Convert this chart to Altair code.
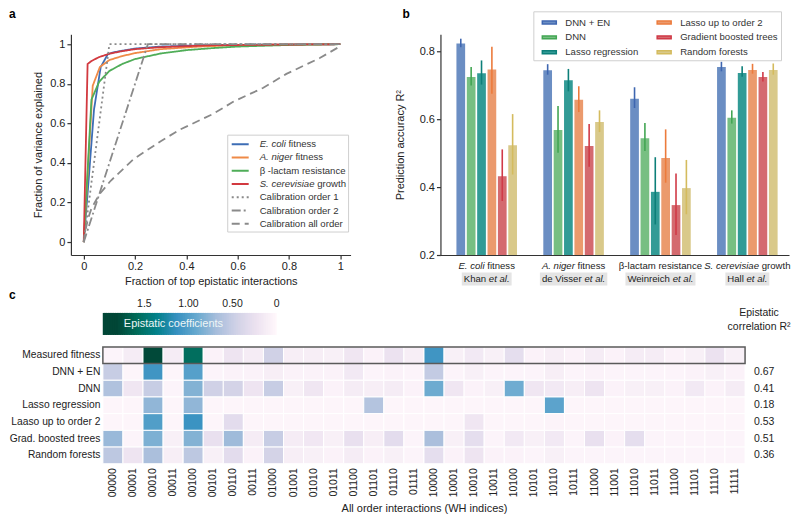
import altair as alt
import pandas as pd
import numpy as np

FONT = "Liberation Sans"

# ---------------- Panel a data ----------------
ecoli_x = [0, 0.02, 0.04, 0.066, 0.094, 0.12, 0.2, 0.3, 0.5, 1.0]
ecoli_y = [0, 0.33, 0.67, 0.884, 0.95, 0.96, 0.978, 0.988, 0.996, 1.0]
aniger_x = [0, 0.035, 0.063, 0.1, 0.15, 0.2, 0.3, 0.45, 0.6, 0.8, 1.0]
aniger_y = [0, 0.79, 0.885, 0.92, 0.94, 0.955, 0.975, 0.988, 0.995, 0.999, 1.0]
blact_x = [0, 0.03, 0.06, 0.1, 0.15, 0.2, 0.3, 0.4, 0.5, 0.6, 0.8, 1.0]
blact_y = [0, 0.72, 0.81, 0.865, 0.9, 0.925, 0.953, 0.97, 0.98, 0.988, 0.996, 1.0]
scer_x = [0, 0.015, 0.03, 0.06, 0.1, 0.15, 0.2, 0.3, 0.5, 1.0]
scer_y = [0, 0.9, 0.915, 0.935, 0.952, 0.965, 0.975, 0.985, 0.995, 1.0]
cal1_x = [0, 0.1, 1.0]
cal1_y = [0, 1.0, 1.0]
cal2_x = [0, 0.25, 1.0]
cal2_y = [0, 1.0, 1.0]
calall_x = [0, 0.005, 0.017, 0.03, 0.06, 0.105, 0.195, 0.3, 0.377, 0.5, 0.584, 0.7, 0.79, 0.92, 1.0]
calall_y = [0, 0.05, 0.12, 0.17, 0.24, 0.31, 0.42, 0.51, 0.57, 0.645, 0.71, 0.78, 0.85, 0.93, 0.99]

a_series = ["E. coli fitness", "A. niger fitness", "β -lactam resistance", "S. cerevisiae growth",
            "Calibration order 1", "Calibration order 2", "Calibration all order"]
a_ital = ["E. coli", "A. niger", "", "S. cerevisiae", "", "", ""]
a_norm = ["fitness", "fitness", "β -lactam resistance", "growth",
          "Calibration order 1", "Calibration order 2", "Calibration all order"]
a_colors = ["#3d6db5", "#ef8a47", "#4fad58", "#d2393f", "#8a8a8a", "#8a8a8a", "#8a8a8a"]
a_dashes = [[1, 0], [1, 0], [1, 0], [1, 0], [2, 3], [9, 3, 2, 3], [8, 5]]

# ---------------- Panel b data ----------------
groups = ["E. coli fitness", "A. niger fitness", "β-lactam resistance", "S. cerevisiae growth"]
methods = ["DNN + EN", "DNN", "Lasso regression", "Lasso up to order 2",
           "Gradient boosted trees", "Random forests"]
r2_mean = {
    "DNN + EN": [0.823, 0.744, 0.660, 0.754],
    "DNN": [0.724, 0.568, 0.544, 0.604],
    "Lasso regression": [0.735, 0.715, 0.386, 0.736],
    "Lasso up to order 2": [0.746, 0.657, 0.486, 0.745],
    "Gradient boosted trees": [0.432, 0.521, 0.347, 0.724],
    "Random forests": [0.523, 0.592, 0.397, 0.745],
}
r2_lo = {
    "DNN + EN": [0.812, 0.731, 0.633, 0.741],
    "DNN": [0.699, 0.501, 0.506, 0.587],
    "Lasso regression": [0.702, 0.682, 0.290, 0.725],
    "Lasso up to order 2": [0.675, 0.621, 0.413, 0.734],
    "Gradient boosted trees": [0.359, 0.460, 0.259, 0.711],
    "Random forests": [0.437, 0.562, 0.320, 0.731],
}
r2_hi = {
    "DNN + EN": [0.837, 0.762, 0.694, 0.769],
    "DNN": [0.754, 0.639, 0.589, 0.626],
    "Lasso regression": [0.773, 0.748, 0.488, 0.756],
    "Lasso up to order 2": [0.813, 0.697, 0.570, 0.763],
    "Gradient boosted trees": [0.511, 0.586, 0.440, 0.739],
    "Random forests": [0.615, 0.626, 0.480, 0.764],
}
bar_colors = ["#6b8ec3", "#77bf82", "#329b96", "#eb9a6d", "#d46a6f", "#d9c98a"]
err_colors = ["#3e66b0", "#43a654", "#0d7f79", "#ec7b3c", "#d03a47", "#d4bb5e"]
cat_line1 = [[("E. coli", True), ("fitness", False)],
             [("A. niger", True), ("fitness", False)],
             [("β-lactam resistance", False)],
             [("S. cerevisiae", True), ("growth", False)]]
cat_line2 = [[("Khan", False), ("et al.", True)],
             [("de Visser", False), ("et al.", True)],
             [("Weinreich", False), ("et al.", True)],
             [("Hall", False), ("et al.", True)]]

# ---------------- Panel c data ----------------
row_names = ["Measured fitness", "DNN + EN", "DNN", "Lasso regression",
             "Laaso up to order 2", "Grad. boosted trees", "Random forests"]
wh_cols = [format(i, "05b") for i in range(32)]
coef_measured = [0.03, 0.12, 1.78, 0.12, 1.55, 0.05, 0.2, 0.12, 0.45, 0.1, 0.1,
                 0.08, 0.18, 0.05, 0.22, 0.1, 1.08, 0.08, 0.15, 0.08, 0.28,
                 0.05, 0.1, 0.05, 0.12, 0.05, 0.12, 0.12, 0.05, 0.08, 0.22, 0.08]
coef_dnn_en = [0.5, 0.02, 1.08, 0.02, 0.98, 0.03, 0.05, 0.05, 0.1, 0.05, 0.05,
               0.05, 0.15, 0.03, 0.05, 0.03, 0.52, 0.03, 0.08, 0.03, 0.03,
               0.03, 0.1, 0.03, 0.05, 0.03, 0.03, 0.03, 0.03, 0.05, 0.08, 0.05]
coef_dnn = [0.62, 0.18, 0.5, 0.03, 0.8, 0.45, 0.42, 0.2, 0.5, 0.08, 0.18,
            0.05, 0.12, 0.1, 0.12, 0.05, 0.88, 0.18, 0.05, 0.08, 0.87,
            0.18, 0.15, 0.1, 0.2, 0.05, 0.08, 0.08, 0.05, 0.15, 0.05, 0.12]
coef_lasso = [0.02, 0.02, 0.75, 0.02, 0.75, 0.02, 0.02, 0.02, 0.02, 0.02, 0.02,
              0.02, 0.02, 0.6, 0.02, 0.02, 0.02, 0.02, 0.02, 0.02, 0.02,
              0.02, 0.95, 0.02, 0.02, 0.02, 0.02, 0.02, 0.02, 0.02, 0.02, 0.02]
coef_lasso2 = [0.02, 0.02, 1.0, 0.02, 1.1, 0.02, 0.3, 0.02, 0.02, 0.02, 0.02,
               0.02, 0.02, 0.02, 0.02, 0.02, 0.02, 0.02, 0.18, 0.02, 0.02,
               0.02, 0.04, 0.02, 0.02, 0.02, 0.02, 0.02, 0.02, 0.02, 0.02, 0.02]
coef_gbt = [0.72, 0.03, 0.82, 0.08, 0.8, 0.25, 0.7, 0.12, 0.5, 0.12, 0.17,
            0.08, 0.25, 0.1, 0.3, 0.03, 0.65, 0.08, 0.28, 0.03, 0.15,
            0.08, 0.15, 0.03, 0.25, 0.05, 0.28, 0.03, 0.03, 0.03, 0.03, 0.03]
coef_rf = [0.55, 0.2, 0.65, 0.1, 0.55, 0.08, 0.3, 0.05, 0.42, 0.1, 0.08,
           0.05, 0.12, 0.05, 0.08, 0.03, 0.28, 0.05, 0.2, 0.05, 0.05,
           0.03, 0.08, 0.03, 0.03, 0.03, 0.03, 0.03, 0.03, 0.03, 0.03, 0.03]
epi_r2 = ["", "0.67", "0.41", "0.18", "0.53", "0.51", "0.36"]
cbar_ticks = [1.5, 1.0, 0.5, 0.0]
cbar_labels = ["1.5", "1.00", "0.50", "0"]
pubugn = ["#fff7fb", "#ece2f0", "#d0d1e6", "#a6bddb", "#67a9cf",
          "#3690c0", "#02818a", "#016c59", "#014636"]

# ---------------- helpers ----------------
AW = {' ': 278, '.': 278, '-': 333, 'A': 667, 'C': 722, 'E': 667, 'H': 722, 'K': 667,
      'S': 667, 'V': 667, 'W': 944, 'a': 556, 'b': 556, 'c': 500, 'd': 556, 'e': 556,
      'f': 278, 'g': 556, 'h': 556, 'i': 222, 'l': 222, 'm': 833, 'n': 556, 'o': 556,
      'r': 333, 's': 500, 't': 278, 'v': 500, 'w': 722, 'β': 575}


def tw(s, size):
    return sum(AW.get(ch, 556) for ch in s) * size / 1000.0


one = pd.DataFrame({"k": [0]})

# ================= Panel a =================
a_w, a_h = 280, 221
curve_xs = [ecoli_x, aniger_x, blact_x, scer_x, cal1_x, cal2_x, calall_x]
curve_ys = [ecoli_y, aniger_y, blact_y, scer_y, cal1_y, cal2_y, calall_y]
rows = []
for name, xs, ys in zip(a_series, curve_xs, curve_ys):
    for j, (xv, yv) in enumerate(zip(xs, ys)):
        rows.append({"series": name, "x": xv, "y": yv, "o": j})
curves = pd.DataFrame(rows)

a_color = alt.Color("series:N", scale=alt.Scale(domain=a_series, range=a_colors), legend=None)
a_dash = alt.StrokeDash("series:N", scale=alt.Scale(domain=a_series, range=a_dashes), legend=None)

lab_expr = "datum.value == 0 ? '0' : datum.value == 1 ? '1' : format(datum.value, '.1f')"
x_a = alt.X("x:Q", scale=alt.Scale(domain=[-0.05, 1.04], nice=False, zero=False),
            axis=alt.Axis(values=[0, 0.2, 0.4, 0.6, 0.8, 1], labelExpr=lab_expr,
                          title="Fraction of top epistatic interactions", tickSize=4,
                          labelPadding=2, titlePadding=4))
y_a = alt.Y("y:Q", scale=alt.Scale(domain=[-0.065, 1.05], nice=False, zero=False),
            axis=alt.Axis(values=[0, 0.2, 0.4, 0.6, 0.8, 1], labelExpr=lab_expr,
                          title="Fraction of variance explained", tickSize=4,
                          labelPadding=2, titlePadding=6))

lines_a = alt.Chart(curves).mark_line(strokeWidth=1.8).encode(
    x=x_a, y=y_a, color=a_color, strokeDash=a_dash, order="o:Q", detail="series:N")

leg_rows = []
for i, name in enumerate(a_series):
    ly = 110 + 13.3 * i
    off = tw(a_ital[i] + " ", 9.6) if a_ital[i] else 0.0
    leg_rows.append({"series": name, "ital": a_ital[i], "norm": a_norm[i],
                     "ly": ly, "nx": 189 + off})
leg_a = pd.DataFrame(leg_rows)

leg_box = alt.Chart(one).mark_rect(fill="white", stroke="#cfcfcf", strokeWidth=1).encode(
    x=alt.value(157), x2=alt.value(278), y=alt.value(101), y2=alt.value(198))
leg_lines = alt.Chart(leg_a).mark_rule(strokeWidth=2).encode(
    x=alt.value(161), x2=alt.value(178), y=alt.Y("ly:Q", scale=None),
    color=a_color, strokeDash=a_dash)
leg_ital = alt.Chart(leg_a).transform_filter("datum.ital != ''").mark_text(
    align="left", baseline="middle", fontSize=9.6, fontStyle="italic", color="#333").encode(
    x=alt.value(189), y=alt.Y("ly:Q", scale=None), text="ital:N")
leg_norm = alt.Chart(leg_a).mark_text(
    align="left", baseline="middle", fontSize=9.6, color="#333").encode(
    x=alt.X("nx:Q", scale=None), y=alt.Y("ly:Q", scale=None), text="norm:N")
letter_a = alt.Chart(one).mark_text(text="a", fontWeight="bold", fontSize=12,
                                    align="left", baseline="top", color="black").encode(
    x=alt.value(-62), y=alt.value(-25))

panel_a = alt.layer(lines_a, leg_box, leg_lines, leg_ital, leg_norm, letter_a).properties(
    width=a_w, height=a_h)

# ================= Panel b =================
b_w, b_h = 349, 221
p_in, p_out, p_al = 0.303, 0.1575, 0.584
step_b = b_w / (len(groups) - p_in + 2 * p_out)
half_band = step_b * (1 - p_in) / 2.0

brows = []
for m in methods:
    for gi, g in enumerate(groups):
        brows.append({"group": g, "method": m, "mean": r2_mean[m][gi],
                      "lo": r2_lo[m][gi], "hi": r2_hi[m][gi]})
bdf = pd.DataFrame(brows)

x_b = alt.X("group:N", sort=groups,
            scale=alt.Scale(paddingInner=p_in, paddingOuter=p_out, align=p_al),
            axis=alt.Axis(labels=False, ticks=False, title=None, domain=True))
xo_b = alt.XOffset("method:N", sort=methods, scale=alt.Scale(paddingInner=0.16, paddingOuter=0))
y_axis_b = alt.Axis(values=[0.2, 0.4, 0.6, 0.8], format=".1f", tickSize=4, labelPadding=2,
                    title="Prediction accuracy R²", titlePadding=14)
y_scale_b = alt.Scale(domain=[0.2, 0.2 + b_h / 340.0], nice=False, zero=False)

bars_b = alt.Chart(bdf).mark_bar().encode(
    x=x_b, xOffset=xo_b,
    y=alt.Y("mean:Q", scale=y_scale_b, axis=y_axis_b), y2=alt.datum(0.2),
    color=alt.Color("method:N", scale=alt.Scale(domain=methods, range=bar_colors),
                    legend=alt.Legend(title=None, orient="none", legendX=93, legendY=-23,
                                      columns=2, columnPadding=12, rowPadding=2, padding=3,
                                      symbolOffset=5,
                                      symbolType="M-1,-0.2L1,-0.2L1,0.2L-1,0.2Z",
                                      symbolSize=196, labelFontSize=9.6, labelOffset=8,
                                      strokeColor="#cfcfcf", fillColor="white",
                                      labelColor="#333")))
err_b = alt.Chart(bdf).mark_rule(strokeWidth=1.6).encode(
    x=x_b, xOffset=xo_b,
    y=alt.Y("lo:Q", scale=y_scale_b, axis=y_axis_b), y2="hi:Q",
    stroke=alt.Stroke("method:N", scale=alt.Scale(domain=methods, range=err_colors), legend=None))

lab_rows = []
box_rows = []
for gi, g in enumerate(groups):
    for line_i, parts in enumerate([cat_line1[gi], cat_line2[gi]]):
        size = 9.6
        widths = [tw(p, size) for p, _ in parts]
        sp = tw(" ", size)
        total = sum(widths) + sp * (len(parts) - 1)
        cur = -total / 2.0
        for (p, it), wv in zip(parts, widths):
            lab_rows.append({"group": g, "txt": p, "it": it, "off": cur + half_band,
                             "ly": b_h + 11 + 13 * line_i})
            cur += wv + sp
        if line_i == 1:
            bw = total + 4
            hh = 6.5 / (bw / 2.0)
            box_rows.append({"group": g, "area": bw * bw, "by": b_h + 24,
                             "shp": f"M-1,-{hh:.4f}L1,-{hh:.4f}L1,{hh:.4f}L-1,{hh:.4f}Z"})
labdf = pd.DataFrame(lab_rows)
boxdf = pd.DataFrame(box_rows)

boxes_b = alt.Chart(boxdf).mark_point(filled=True, color="#e4e4e4", opacity=1,
                                      strokeWidth=0).encode(
    x=x_b, y=alt.Y("by:Q", scale=None), size=alt.Size("area:Q", scale=None),
    shape=alt.Shape("shp:N", scale=None))
lab_norm = alt.Chart(labdf).transform_filter("!datum.it").mark_text(
    align="left", baseline="middle", fontSize=9.6, color="#222").encode(
    x=x_b, xOffset=alt.XOffset("off:Q", scale=None), y=alt.Y("ly:Q", scale=None), text="txt:N")
lab_ital = alt.Chart(labdf).transform_filter("datum.it").mark_text(
    align="left", baseline="middle", fontSize=9.6, fontStyle="italic", color="#222").encode(
    x=x_b, xOffset=alt.XOffset("off:Q", scale=None), y=alt.Y("ly:Q", scale=None), text="txt:N")
letter_b = alt.Chart(one).mark_text(text="b", fontWeight="bold", fontSize=12,
                                    align="left", baseline="top", color="black").encode(
    x=alt.value(-38), y=alt.value(-25))

panel_b = alt.layer(bars_b, err_b, boxes_b, lab_norm, lab_ital, letter_b).properties(
    width=b_w, height=b_h)

# ================= Panel c =================
c_shift = 32
c_cells = 643
c_w, c_h = c_shift + c_cells, 117
coef_rows = [coef_measured, coef_dnn_en, coef_dnn, coef_lasso, coef_lasso2, coef_gbt, coef_rf]
hrows = []
for rn, vals in zip(row_names, coef_rows):
    for cn, v in zip(wh_cols, vals):
        hrows.append({"row": rn, "col": cn, "val": v})
hdf = pd.DataFrame(hrows)

cmax = 1.8
color_c = alt.Color("val:Q", scale=alt.Scale(domain=[cmax * k / 8 for k in range(9)],
                                             range=pubugn, clamp=True, interpolate="rgb"),
                    legend=None)
y_c = alt.Y("row:N", sort=row_names,
            axis=alt.Axis(title=None, domain=False, ticks=False, labelPadding=3,
                          labelFontSize=10.3, labelLimit=200, offset=-c_shift))
heat = alt.Chart(hdf).mark_rect(stroke="white", strokeWidth=1).encode(
    x=alt.X("col:N", sort=wh_cols, scale=alt.Scale(range=[c_shift, c_w]),
            axis=alt.Axis(title="All order interactions (WH indices)", labelAngle=270,
                          domain=False, ticks=False, labelPadding=4, labelFontSize=10.5,
                          titlePadding=6)),
    y=y_c, color=color_c)

border = alt.Chart(pd.DataFrame({"row": [row_names[0]]})).mark_rect(
    fillOpacity=0, stroke="#5a5a5a", strokeWidth=1.5).encode(
    x=alt.value(c_shift), x2=alt.value(c_w), y=y_c)

r2df = pd.DataFrame({"row": row_names, "r2": epi_r2})
r2_text = alt.Chart(r2df).mark_text(align="left", baseline="middle", fontSize=10.5,
                                    color="#222").encode(
    x=alt.value(c_w + 9), y=y_c, text="r2:N")

cbar_scale = alt.Scale(domain=[1.97, 0.0], range=[c_shift, c_shift + 174], nice=False, zero=False)
cb_vals = np.round(np.arange(0.0, 1.97, 0.02), 3)
cbdf = pd.DataFrame({"val": cb_vals, "v2": np.minimum(cb_vals + 0.035, 1.97)})
cbar = alt.Chart(cbdf).mark_rect().encode(
    x=alt.X("val:Q", scale=cbar_scale, axis=None), x2="v2:Q",
    y=alt.value(-34), y2=alt.value(-12), color=color_c)
cbtdf = pd.DataFrame({"t": cbar_ticks, "lab": cbar_labels})
cbar_labs = alt.Chart(cbtdf).mark_text(baseline="bottom", fontSize=10.5, color="#222").encode(
    x=alt.X("t:Q", scale=cbar_scale, axis=None), y=alt.value(-38), text="lab:N")
cbar_title = alt.Chart(one).mark_text(text="Epistatic coefficients", align="left",
                                      baseline="middle", fontSize=11, color="#eef6f6").encode(
    x=alt.value(c_shift + 21), y=alt.value(-23))
r2_title1 = alt.Chart(one).mark_text(text="Epistatic", baseline="middle", fontSize=10.5,
                                     color="#222").encode(x=alt.value(c_w + 14), y=alt.value(-34))
r2_title2 = alt.Chart(one).mark_text(text="correlation R²", baseline="middle", fontSize=10.5,
                                     color="#222").encode(x=alt.value(c_w + 14), y=alt.value(-20))
letter_c = alt.Chart(one).mark_text(text="c", fontWeight="bold", fontSize=12,
                                    align="left", baseline="top", color="black").encode(
    x=alt.value(c_shift - 94), y=alt.value(-57))

panel_c = alt.layer(heat, border, r2_text, cbar, cbar_labs, cbar_title, r2_title1, r2_title2,
                    letter_c).resolve_scale(x="independent").properties(width=c_w, height=c_h)

indep = dict(color="independent", stroke="independent", strokeDash="independent",
             size="independent", shape="independent")
top = alt.hconcat(panel_a, panel_b, spacing=43).resolve_scale(**indep)
chart = alt.vconcat(top, panel_c, spacing=2).resolve_scale(**indep).properties(padding=0)

chart = chart.configure(font=FONT).configure_view(stroke=None).configure_axis(
    grid=False, labelFont=FONT, titleFont=FONT, labelFontSize=11, titleFontSize=11,
    titleFontWeight="normal", labelColor="#222", titleColor="#222",
    domainColor="#333", tickColor="#333", domainWidth=1.2, tickWidth=1.2
).configure_text(font=FONT).configure_legend(labelFont=FONT)

chart.save("out.html", embed_options={"renderer": "svg", "actions": False})
